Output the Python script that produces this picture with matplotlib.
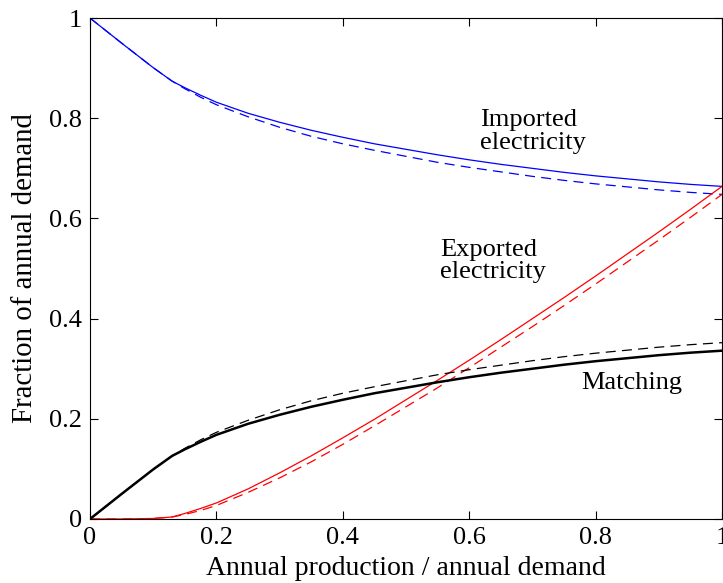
import numpy as np
import matplotlib
matplotlib.use('Agg')
import matplotlib.pyplot as plt

plt.rcParams['font.family'] = ['Liberation Serif', 'DejaVu Serif']

# data
x = [0.0, 0.05, 0.1, 0.13, 0.15, 0.175, 0.2, 0.25, 0.3, 0.35, 0.4, 0.45,
     0.5, 0.55, 0.6, 0.65, 0.7, 0.75, 0.8, 0.85, 0.9, 0.95, 1.0]

matching = [0.0, 0.05, 0.099, 0.126, 0.139, 0.154, 0.168, 0.19, 0.208, 0.224, 0.238, 0.251,
            0.262, 0.273, 0.283, 0.292, 0.3, 0.308, 0.315, 0.321, 0.327, 0.332, 0.336]
matching_d = [0.0, 0.05, 0.099, 0.126, 0.141, 0.158, 0.173, 0.197, 0.218, 0.236, 0.251, 0.264,
              0.276, 0.288, 0.298, 0.307, 0.316, 0.324, 0.331, 0.337, 0.343, 0.348, 0.352]

imported = [1.0, 0.95, 0.901, 0.874, 0.861, 0.846, 0.832, 0.81, 0.792, 0.776, 0.762, 0.749,
            0.738, 0.727, 0.717, 0.708, 0.7, 0.692, 0.685, 0.679, 0.673, 0.668, 0.664]
imported_d = [1.0, 0.95, 0.901, 0.874, 0.859, 0.842, 0.827, 0.803, 0.782, 0.764, 0.749, 0.736,
              0.724, 0.712, 0.702, 0.693, 0.684, 0.676, 0.669, 0.663, 0.657, 0.652, 0.648]

exported = [0.0, 0.0, 0.001, 0.004, 0.011, 0.021, 0.032, 0.06, 0.092, 0.126, 0.162, 0.199,
            0.238, 0.277, 0.317, 0.358, 0.4, 0.442, 0.485, 0.529, 0.573, 0.618, 0.664]
exported_d = [0.0, 0.0, 0.001, 0.004, 0.009, 0.017, 0.027, 0.053, 0.082, 0.114, 0.149, 0.186,
              0.224, 0.262, 0.302, 0.343, 0.384, 0.426, 0.469, 0.513, 0.557, 0.602, 0.648]

ticks = [0, 0.2, 0.4, 0.6, 0.8, 1]
tick_labels = ['0', '0.2', '0.4', '0.6', '0.8', '1']

fig = plt.figure(figsize=(7.23, 5.83), dpi=100)
ax = fig.add_axes([0.1245, 0.1098, 0.8741, 0.8592])

dash = (0, (8, 5))
ax.plot(x, imported, color='blue', lw=0.9)
ax.plot(x, imported_d, color='blue', lw=0.9, ls=dash)
ax.plot(x, exported, color='red', lw=0.9)
ax.plot(x, exported_d, color='red', lw=0.9, ls=dash)
ax.plot(x, matching, color='black', lw=1.8)
ax.plot(x, matching_d, color='black', lw=0.9, ls=dash)

ax.text(0.617, 0.774, 'Imported\nelectricity', fontsize=19, va='center', ha='left', linespacing=1.05)
ax.text(0.554, 0.515, 'Exported\nelectricity', fontsize=19, va='center', ha='left', linespacing=1.05)
ax.text(0.777, 0.271, 'Matching', fontsize=19, va='center', ha='left')

ax.set_xlim(0, 1)
ax.set_ylim(0, 1)
ax.set_xticks(ticks)
ax.set_xticklabels(tick_labels)
ax.set_yticks(ticks)
ax.set_yticklabels(tick_labels)
ax.tick_params(direction='in', top=True, right=True, length=6, labelsize=19, pad=6)
ax.set_xlabel('Annual production / annual demand', fontsize=20, labelpad=5)
ax.set_ylabel('Fraction of annual demand', fontsize=20.8, labelpad=8)

fig.savefig('out.png', dpi=100)
